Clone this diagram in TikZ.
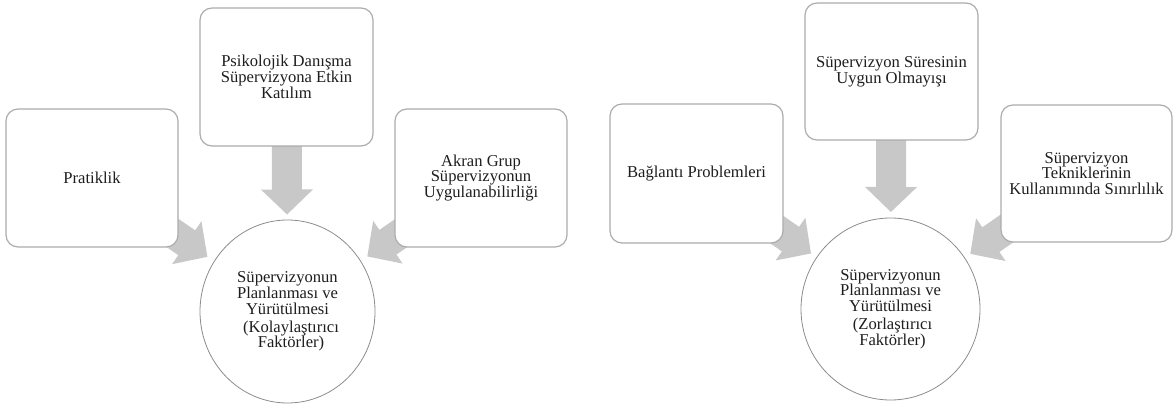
\documentclass[tikz,border=0pt]{standalone}
\usepackage{fontspec}
\setmainfont{Liberation Serif}
\usetikzlibrary{calc,shapes.geometric}

\definecolor{arrowgray}{RGB}{200,200,200}
\definecolor{boxline}{RGB}{172,172,172}
\definecolor{ringline}{RGB}{140,140,140}
\definecolor{inkcol}{RGB}{30,30,30}

\pgfdeclarelayer{bg}
\pgfsetlayers{bg,main}

% wide grey arrow from a factor box towards the central ellipse
\newcommand\convarrow[2]{%
  \coordinate (#1-h) at ($(#2.center)!122pt!(#1.center)$);
  \coordinate (#1-t) at ($(#2.center)!97pt!(#1.center)$);
  \fill[arrowgray]
    ($(#1.center)!15pt!90:(#2.center)$) --
    ($(#1-h)!15pt!90:(#2.center)$) --
    ($(#1-h)!26pt!90:(#2.center)$) --
    (#1-t) --
    ($(#1-h)!26pt!-90:(#2.center)$) --
    ($(#1-h)!15pt!-90:(#2.center)$) --
    ($(#1.center)!15pt!-90:(#2.center)$) -- cycle;
}

\tikzset{
  factor/.style={draw=boxline, line width=1.2pt, fill=white, rounded corners=12pt,
    minimum width=172pt, minimum height=138pt, inner sep=0pt, align=center,
    text=inkcol, font=\fontsize{16.6}{15.8}\selectfont},
  hub/.style={ellipse, draw=ringline, line width=0.8pt, fill=white, inner sep=0pt,
    align=center, text=inkcol, font=\fontsize{16.6}{15.8}\selectfont},
}

\begin{document}
\begin{tikzpicture}[x=1pt, y=-1pt]
\useasboundingbox (0,0) rectangle (1173,409);

% facilitating factors
\node[factor] (prat) at (92,178) {Pratiklik};
\node[factor, minimum width=173pt] (psiko) at (286.5,77) {Psikolojik Danışma\\Süpervizyona Etkin\\Katılım};
\node[factor] (akran) at (481,178) {Akran Grup\\Süpervizyonun\\Uygulanabilirliği};
\node[hub, minimum width=175pt, minimum height=183pt] (hubL) at (287.5,311.5)
  {Süpervizyonun\\Planlanması ve\\Yürütülmesi\\[2pt]\hspace*{7pt}(Kolaylaştırıcı\\\hspace*{7pt}Faktörler)};

% hindering factors
\node[factor, minimum width=173pt, minimum height=139pt] (bag) at (696.5,173.5) {Bağlantı Problemleri};
\node[factor, minimum width=173pt, minimum height=137pt] (sure) at (891.5,71.5) {Süpervizyon Süresinin\\Uygun Olmayışı};
\node[factor, minimum width=171pt, minimum height=137pt] (tek) at (1086.5,173.5) {Süpervizyon\\Tekniklerinin\\Kullanımında Sınırlılık};
\node[hub, minimum width=179pt, minimum height=182pt] (hubR) at (890.5,309)
  {Süpervizyonun\\Planlanması ve\\Yürütülmesi\\[2pt]\hspace*{4pt}(Zorlaştırıcı\\\hspace*{4pt}Faktörler)};

\begin{pgfonlayer}{bg}
  \convarrow{prat}{hubL}
  \convarrow{psiko}{hubL}
  \convarrow{akran}{hubL}
  \convarrow{bag}{hubR}
  \convarrow{sure}{hubR}
  \convarrow{tek}{hubR}
\end{pgfonlayer}
\end{tikzpicture}
\end{document}
